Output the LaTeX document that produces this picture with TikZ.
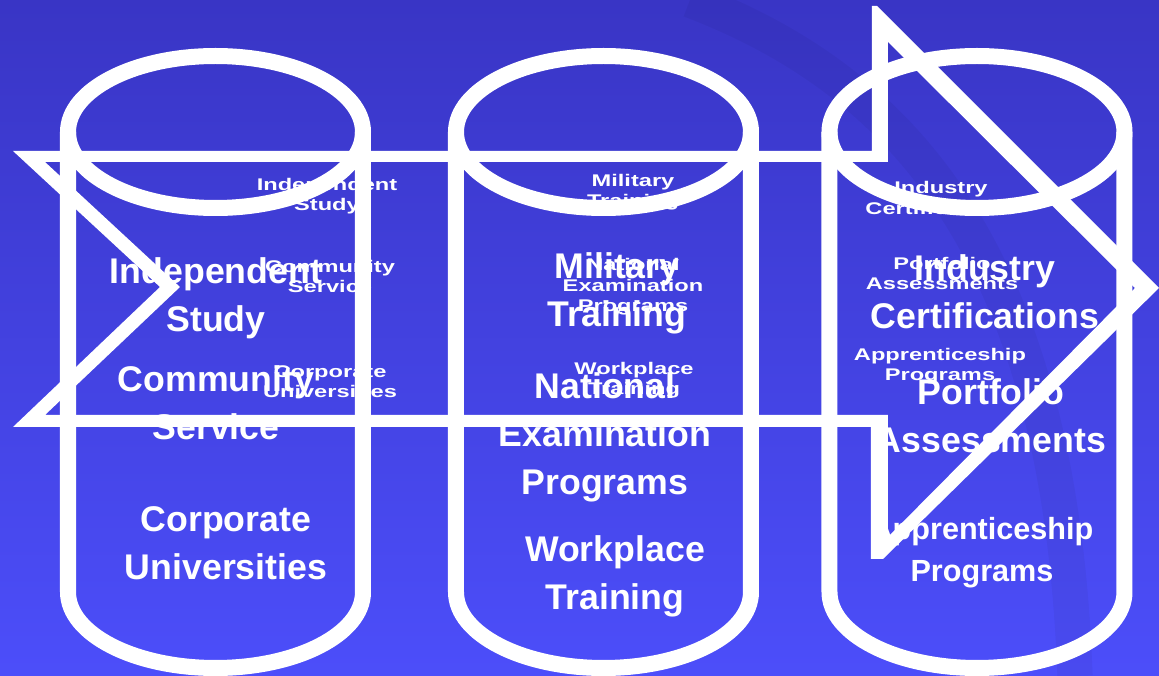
\documentclass[tikz,border=0pt]{standalone}
\usepackage{fontspec}
\setmainfont{Liberation Sans}
\newfontfamily\stretchfont[FakeStretch=1.4]{Liberation Sans}
\usepackage{xcolor}
\usepackage{tikz}
\usetikzlibrary{calc}
\definecolor{bgtop}{RGB}{57,53,197}
\definecolor{bgbot}{RGB}{76,78,250}
\tikzset{
    cyl/.style={draw=white, line width=4.55pt},
    big/.style={text=white, inner sep=0pt, anchor=base, align=center, font=\fontsize{10.15pt}{13.66pt}\selectfont\bfseries},
    echo/.style={text=white, inner sep=0pt, anchor=base, align=center, font=\stretchfont\fontsize{4.8pt}{5.97pt}\selectfont\bfseries}}

\begin{document}
\begin{tikzpicture}[x=0.01cm, y=-0.01cm]
\useasboundingbox (0,0) rectangle (1159,676);
\shade[top color=bgtop, bottom color=bgbot] (0,0) rectangle (1159,676);
\draw[line width=10pt, black, opacity=0.04] (690,0) .. controls (900,80) and (1060,250) .. (1075,676);

% cylinders
\coordinate (C1) at (215.5,132);
\coordinate (C2) at (603.5,132);
\coordinate (C3) at (977,132);
\foreach \c in {C1,C2,C3}{
  \draw[cyl] (\c) ellipse [x radius=147.5, y radius=76];
  \draw[cyl] ($(\c)+(-147.5,0)$) -- ++(0,460) arc[start angle=180, end angle=0, x radius=147.5, y radius=76] -- ++(0,-460);
}

% arrow outline
\fill[white, even odd rule] (13,151) -- (872,151) -- (872,6) -- (877,6) -- (1159,288) -- (883,559) -- (871,559) -- (871,427) -- (13,427) -- (160,287) -- cycle
  (45,162) -- (888,162) -- (888,42) -- (1135,288) -- (888,537) -- (888,415) -- (45,415) -- (180,287) -- cycle;

% small labels (placed at last baseline)
\node[echo] (S1a) at (327,211) {Independent\\Study};
\node[echo] (S1b) at (330,293) {Community\\Service};
\node[echo] (S1c) at (330,398) {Corporate\\Universities};
\node[echo] (S2a) at (633,207) {Military\\Training};
\node[echo] (S2b) at (633,312) {National\\Examination\\Programs};
\node[echo] (S2c) at (634,395) {Workplace\\Training};
\node[echo] (S3a) at (941,215) {Industry\\Certifications};
\node[echo] (S3b) at (942,290) {Portfolio\\Assessments};
\node[echo] (S3c) at (940,381) {Apprenticeship\\Programs};

% large labels
\node[big] (B1a) at (216,332) {Independent\\Study};
\node[big] (B1b) at (216,440) {Community\\Service};
\node[big] (B1c) at (226,580) {Corporate\\Universities};
\node[big] (B2a) at (617,327) {Military\\Training};
\node[big] (B2b) at (605,495) {National\\Examination\\Programs};
\node[big] (B2c) at (615,610) {Workplace\\Training};
\node[big] (B3a) at (985,329) {Industry\\Certifications};
\node[big] (B3b) at (991,453) {Portfolio\\Assessments};
\node[big, font=\fontsize{8.7pt}{11.95pt}\selectfont\bfseries] (B3c) at (982,582) {Apprenticeship\\Programs};
\end{tikzpicture}
\end{document}
